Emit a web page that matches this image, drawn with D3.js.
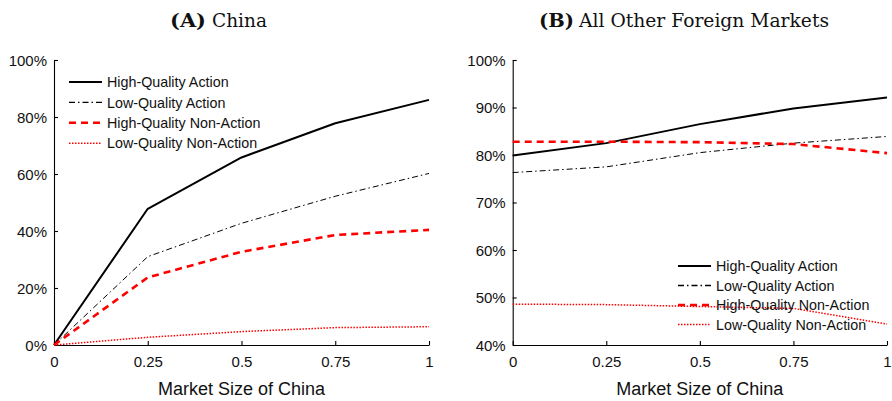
<!DOCTYPE html>
<html><head><meta charset="utf-8">
<script src="https://cdn.jsdelivr.net/npm/d3@7"></script>
<style>body{margin:0;background:#fff}svg{display:block}</style>
</head><body>
<svg id="c" width="892" height="401"></svg>
<script>
const xValues = [0, 0.25, 0.5, 0.75, 1];
const xTicks = [0, 0.25, 0.5, 0.75, 1];
const xTickLabels = ["0", "0.25", "0.5", "0.75", "1"];
const seriesNames = ["High-Quality Action", "Low-Quality Action", "High-Quality Non-Action", "Low-Quality Non-Action"];

// Panel A: China (percent)
const chinaHQAction = [0, 47.8, 65.8, 77.8, 86.0];
const chinaLQAction = [0, 31.0, 42.7, 52.2, 60.2];
const chinaHQNonAction = [0, 23.7, 32.7, 38.6, 40.4];
const chinaLQNonAction = [0, 2.7, 4.7, 6.1, 6.4];
const chinaYTicks = [0, 20, 40, 60, 80, 100];

// Panel B: All other foreign markets (percent)
const otherHQAction = [79.9, 82.5, 86.5, 89.8, 92.1];
const otherLQAction = [76.3, 77.5, 80.5, 82.5, 83.9];
const otherHQNonAction = [82.8, 82.8, 82.7, 82.3, 80.4];
const otherLQNonAction = [48.6, 48.5, 48.1, 47.7, 44.4];
const otherYTicks = [40, 50, 60, 70, 80, 90, 100];

const styles = [
  {stroke:"#000", width:2, dash:null},
  {stroke:"#000", width:1, dash:"6,3,1.5,3"},
  {stroke:"#ff0000", width:2.6, dash:"7,5"},
  {stroke:"#ff0000", width:1.5, dash:"1.5,1.5"}
];

const svg = d3.select("#c");
const sans = "'Liberation Sans', Arial, sans-serif";
const serif = "'DejaVu Serif', serif";

function panel(cfg) {
  const x = d3.scaleLinear().domain([0,1]).range([cfg.x0, cfg.x1]);
  const y = d3.scaleLinear().domain(cfg.yDomain).range([345, 60]);
  const g = svg.append("g");

  const xa = d3.axisBottom(x).tickValues(xTicks).tickFormat((d,i)=>xTickLabels[i]).tickSizeInner(-4).tickSizeOuter(0).tickPadding(10);
  const gx = g.append("g").attr("transform", `translate(0,345)`).call(xa);
  const ya = d3.axisLeft(y).tickValues(cfg.yTicks).tickFormat(d=>d+"%").tickSizeInner(-4).tickSizeOuter(0).tickPadding(7);
  const gy = g.append("g").attr("transform", `translate(${cfg.x0},0)`).call(ya);
  [gx, gy].forEach(a => {
    a.selectAll("path,line").attr("stroke","#000").attr("stroke-width",1.1);
    a.selectAll("text").attr("font-family",sans).attr("font-size",15).attr("fill","#111");
  });
  gx.selectAll("text").attr("dy","0.75em").attr("y", 11);
  gy.selectAll("text").attr("dy","0.36em");

  const line = d3.line().x((d,i)=>x(xValues[i])).y(d=>y(d));
  cfg.series.forEach((s, k) => {
    const st = styles[k];
    g.append("path").datum(s).attr("d", line).attr("fill","none")
      .attr("stroke", st.stroke).attr("stroke-width", st.width)
      .attr("stroke-dasharray", st.dash).attr("stroke-linejoin","round");
  });

  seriesNames.forEach((n, k) => {
    const st = styles[k];
    const yy = cfg.legY + k*cfg.legStep;
    g.append("line").attr("x1", cfg.legX).attr("x2", cfg.legX+33).attr("y1", yy).attr("y2", yy)
      .attr("stroke", st.stroke).attr("stroke-width", k===1 ? 1.3 : st.width).attr("stroke-dasharray", st.dash);
    g.append("text").attr("x", cfg.legX+38).attr("y", yy).attr("dy","0.36em")
      .attr("font-family",sans).attr("font-size",14.3).attr("fill","#111").text(n);
  });

  g.append("text").attr("x", (cfg.x0+cfg.x1)/2).attr("y", 395).attr("text-anchor","middle")
    .attr("font-family",sans).attr("font-size",18).attr("fill","#111").text("Market Size of China");

  g.append("text").attr("x", cfg.titleX).attr("y", 27).attr("font-family",serif).attr("font-size",19)
    .attr("font-weight","bold").attr("fill","#111").attr("textLength", cfg.labW).attr("lengthAdjust","spacingAndGlyphs").text(cfg.label);
  g.append("text").attr("x", cfg.titleX2).attr("y", 27).attr("font-family",serif).attr("font-size",19)
    .attr("fill","#111").attr("textLength", cfg.titleW).attr("lengthAdjust","spacingAndGlyphs").text(cfg.title);
}

panel({x0:54, x1:429, yDomain:[0,100], yTicks:chinaYTicks,
  series:[chinaHQAction, chinaLQAction, chinaHQNonAction, chinaLQNonAction],
  legX:69, legY:82, legStep:20.4,
  titleX:170, labW:36, label:"(A)", titleX2:212, titleW:55, title:"China"});

panel({x0:512.7, x1:887, yDomain:[40,100], yTicks:otherYTicks,
  series:[otherHQAction, otherLQAction, otherHQNonAction, otherLQNonAction],
  legX:678, legY:266, legStep:19.5,
  titleX:539, labW:35, label:"(B)", titleX2:579, titleW:250, title:"All Other Foreign Markets"});
</script>
</body></html>
